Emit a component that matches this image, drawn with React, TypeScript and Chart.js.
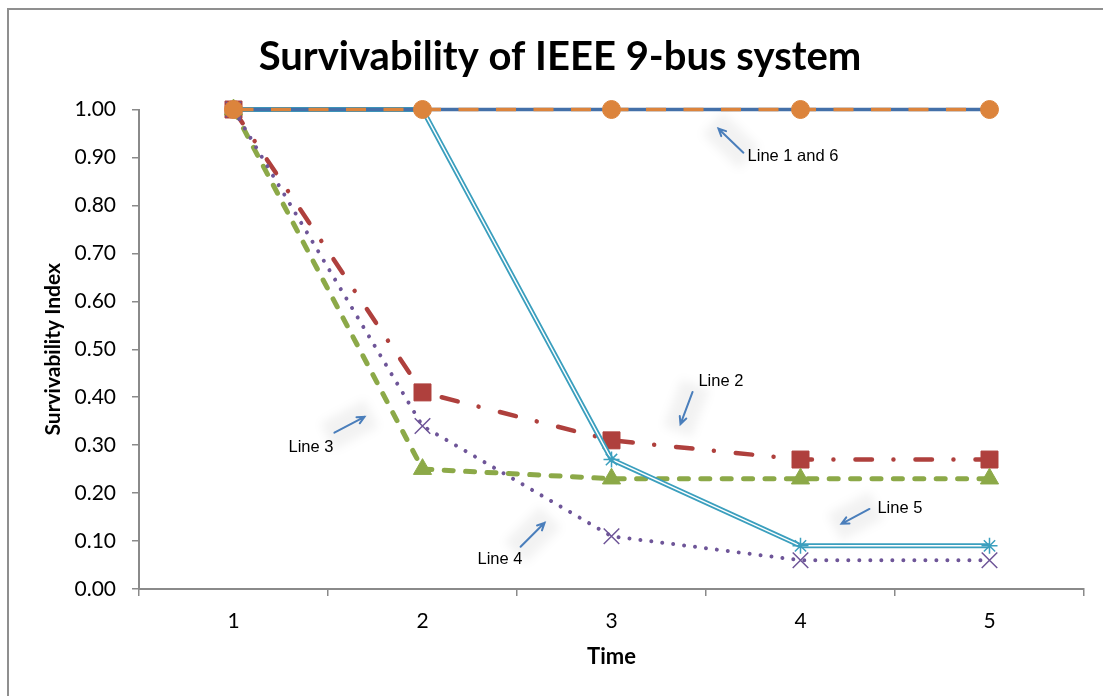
import React, { useEffect, useRef } from "react";
import { Chart, registerables } from "chart.js";

Chart.register(...registerables);

// ---------- data ----------
const categories = ["1", "2", "3", "4", "5"];
const line1 = [1.0, 1.0, 1.0, 1.0, 1.0];
const line2 = [1.0, 0.41, 0.31, 0.27, 0.27];
const line3 = [1.0, 0.25, 0.23, 0.23, 0.23];
const line4 = [1.0, 0.34, 0.11, 0.06, 0.06];
const line5 = [1.0, 1.0, 0.27, 0.09, 0.09];
const line6 = [1.0, 1.0, 1.0, 1.0, 1.0];

const titleText = "Survivability of IEEE 9-bus system";
const xTitle = "Time";
const yTitle = "Survivability Index";

// callouts, in data space (x = 0-based category position, y = index value)
const noteLabels = ["Line 1 and 6", "Line 2", "Line 3", "Line 4", "Line 5"];
const noteTextX = [2.72, 2.46, 0.291, 1.291, 3.407];
const noteTextY = [0.902, 0.432, 0.296, 0.061, 0.167];
const arrowFromX = [2.698, 2.429, 0.534, 1.519, 3.365];
const arrowFromY = [0.91, 0.411, 0.326, 0.088, 0.167];
const arrowToX = [2.566, 2.365, 0.693, 1.646, 3.217];
const arrowToY = [0.96, 0.344, 0.359, 0.138, 0.136];

// ---------- styles ----------
const BLUE = "#4470A8";
const RED = "#AF403D";
const GREEN = "#8CA948";
const PURPLE = "#6E5598";
const AQUA = "#3B9FBE";
const ORANGE = "#DC843C";
const AXIS = "#8A8A8A";
const FONT = "Lato, 'Open Sans', sans-serif";

const notesPlugin = {
  id: "notes",
  afterDatasetsDraw(chart: any) {
    const { ctx } = chart;
    const xs = chart.scales.x;
    const ys = chart.scales.y;
    ctx.save();
    for (let i = 0; i < noteLabels.length; i++) {
      const fx = xs.getPixelForValue(arrowFromX[i]);
      const fy = ys.getPixelForValue(arrowFromY[i]);
      const tx = xs.getPixelForValue(arrowToX[i]);
      const ty = ys.getPixelForValue(arrowToY[i]);
      const ang = Math.atan2(ty - fy, tx - fx);
      const len = Math.hypot(tx - fx, ty - fy);
      // soft glow
      ctx.save();
      ctx.filter = "blur(5px)";
      ctx.fillStyle = "rgba(0,0,0,0.05)";
      ctx.translate((fx + tx) / 2, (fy + ty) / 2);
      ctx.rotate(ang);
      ctx.fillRect(-len / 2 - 8, -15, len + 16, 30);
      ctx.restore();
      // arrow
      ctx.strokeStyle = "#4A7EBB";
      ctx.lineWidth = 2;
      ctx.lineCap = "round";
      ctx.beginPath();
      ctx.moveTo(fx, fy);
      ctx.lineTo(tx, ty);
      const ah = 8;
      ctx.moveTo(tx - ah * Math.cos(ang - 0.45), ty - ah * Math.sin(ang - 0.45));
      ctx.lineTo(tx, ty);
      ctx.lineTo(tx - ah * Math.cos(ang + 0.45), ty - ah * Math.sin(ang + 0.45));
      ctx.stroke();
      // text
      ctx.fillStyle = "#000";
      ctx.font = "16.5px 'Liberation Sans', Arial, sans-serif";
      ctx.textAlign = "left";
      ctx.textBaseline = "middle";
      ctx.fillText(noteLabels[i], xs.getPixelForValue(noteTextX[i]), ys.getPixelForValue(noteTextY[i]));
    }
    ctx.restore();
  },
};

export default function App() {
  const canvasRef = useRef<HTMLCanvasElement | null>(null);

  useEffect(() => {
    if (!canvasRef.current) return;
    const chart = new Chart(canvasRef.current, {
      type: "line",
      data: {
        labels: categories,
        datasets: [
          {
            label: "Line 6",
            data: line6,
            clip: false,
            borderColor: ORANGE,
            backgroundColor: ORANGE,
            borderWidth: 3.5,
            borderDash: [20, 17.5],
            pointStyle: "circle",
            pointRadius: 9,
            pointBorderWidth: 1,
            pointBorderColor: ORANGE,
            pointBackgroundColor: ORANGE,
            order: 1,
          },
          {
            label: "Line 1",
            data: line1,
            clip: false,
            borderColor: BLUE,
            backgroundColor: BLUE,
            borderWidth: 3.5,
            pointStyle: "rectRot",
            pointRadius: 6,
            pointBackgroundColor: BLUE,
            pointBorderColor: BLUE,
            order: 2,
          },
          {
            label: "Line 5 markers",
            data: line5,
            clip: false,
            showLine: false,
            pointStyle: "star",
            pointRadius: 8,
            pointBorderWidth: 1.5,
            pointBorderColor: AQUA,
            pointBackgroundColor: AQUA,
            order: 3,
          },
          {
            label: "Line 5 inner",
            data: line5,
            clip: false,
            borderColor: "#ffffff",
            borderWidth: 1.5,
            pointRadius: 0,
            order: 4,
          },
          {
            label: "Line 5",
            data: line5,
            clip: false,
            borderColor: AQUA,
            borderWidth: 5,
            pointRadius: 0,
            order: 5,
          },
          {
            label: "Line 4",
            data: line4,
            clip: false,
            borderColor: PURPLE,
            borderWidth: 4,
            borderDash: [0.01, 11],
            borderCapStyle: "round",
            pointStyle: "crossRot",
            pointRadius: 11,
            pointBorderWidth: 1.5,
            pointBorderColor: PURPLE,
            order: 6,
          },
          {
            label: "Line 3",
            data: line3,
            clip: false,
            borderColor: GREEN,
            borderWidth: 5,
            borderDash: [9, 12.4],
            borderCapStyle: "round",
            pointStyle: "triangle",
            pointRadius: 10.5,
            pointBorderWidth: 1,
            pointBorderColor: GREEN,
            pointBackgroundColor: GREEN,
            order: 7,
          },
          {
            label: "Line 2",
            data: line2,
            clip: false,
            borderColor: RED,
            borderWidth: 4.5,
            borderDash: [16.5, 21.5, 0.01, 22],
            borderCapStyle: "round",
            pointStyle: "rect",
            pointRadius: 12,
            pointBorderWidth: 1,
            pointBorderColor: RED,
            pointBackgroundColor: RED,
            order: 8,
          },
        ],
      },
      options: {
        responsive: false,
        animation: false,
        events: [],
        layout: { padding: { left: 27, right: 29, top: 0, bottom: 11 } },
        elements: { line: { tension: 0 } },
        plugins: {
          legend: { display: false },
          tooltip: { enabled: false },
          title: {
            display: true,
            text: titleText,
            color: "#000",
            font: { family: FONT, size: 40, weight: "bold" },
            padding: { top: 23, bottom: 28.5 },
          },
        },
        scales: {
          x: {
            type: "category",
            offset: true,
            grid: {
              display: true,
              offset: true,
              drawOnChartArea: false,
              drawTicks: true,
              tickLength: 7,
              color: AXIS,
              lineWidth: 1.5,
            },
            border: { display: true, color: AXIS, width: 2 },
            ticks: { color: "#000", font: { family: FONT, size: 21 }, padding: 13 },
            title: {
              display: true,
              text: xTitle,
              color: "#000",
              font: { family: FONT, size: 22, weight: "bold" },
              padding: { top: 0, bottom: 18.8 },
            },
            afterFit: (s: any) => {
              s.height = 100;
            },
          },
          y: {
            min: 0,
            max: 1,
            grid: {
              display: true,
              drawOnChartArea: false,
              drawTicks: true,
              tickLength: 7,
              color: AXIS,
              lineWidth: 1.5,
            },
            border: { display: true, color: AXIS, width: 2 },
            ticks: {
              stepSize: 0.1,
              color: "#000",
              font: { family: FONT, size: 21 },
              padding: 16,
              callback: (v: any) => Number(v).toFixed(2),
            },
            title: {
              display: true,
              text: yTitle,
              color: "#000",
              font: { family: FONT, size: 21, weight: "bold" },
              padding: { top: 4.3, bottom: 0 },
            },
            afterFit: (s: any) => {
              s.width = 103;
            },
          },
        },
      },
      plugins: [notesPlugin],
    });
    return () => chart.destroy();
  }, []);

  return (
    <div
      style={{
        position: "fixed",
        left: 0,
        top: 0,
        width: 1103,
        height: 696,
        overflow: "hidden",
        background: "#fff",
      }}
    >
      <div
        style={{
          position: "absolute",
          left: 7,
          top: 8,
          width: 1110,
          height: 700,
          border: "2px solid #8F8F8F",
          background: "#fff",
        }}
      >
        <canvas ref={canvasRef} width={1104} height={690} style={{ display: "block", width: 1104, height: 690 }} />
      </div>
    </div>
  );
}
